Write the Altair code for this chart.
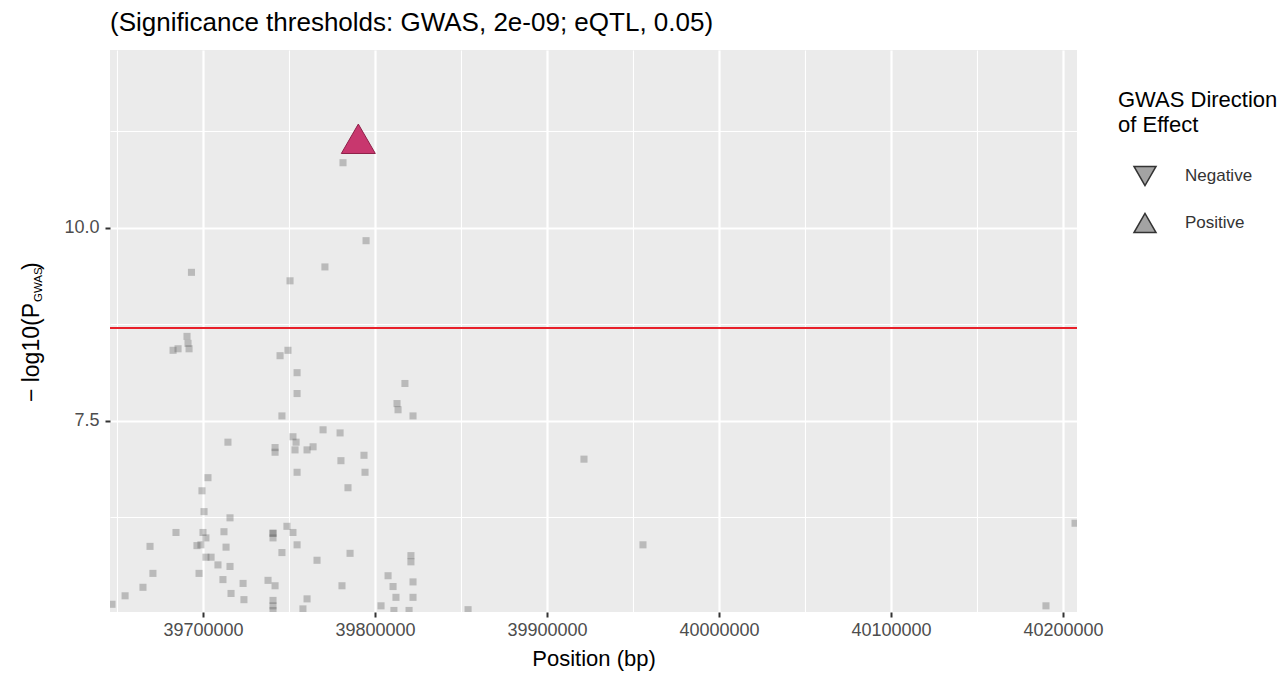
import altair as alt
import pandas as pd

# ---- data ----
pos_bp = [39781400, 39794800, 39770900, 39750600, 39693300, 39682600, 39685500, 39690700,
          39691300, 39691900, 39749400, 39744800, 39754700, 39754700, 39745900, 39817400,
          39812800, 39813400, 39822100, 39793600, 39794200, 39784300, 39785500, 39820900,
          39820900, 39807600, 39810500, 39822100, 39812200, 39822100, 39803500, 39811000,
          39819800, 39854100, 39769800, 39779700, 39752300, 39754100, 39741900, 39741900,
          39753500, 39760500, 39764000, 39780200, 39754700, 39748800, 39740700, 39740700,
          39740700, 39752300, 39754700, 39745900, 39766300, 39737800, 39741900, 39780800,
          39760500, 39758100, 39740700, 39740700, 39740700, 39714500, 39702900, 39699400,
          39700600, 39715700, 39684300, 39700000, 39701700, 39696500, 39698800, 39712200,
          39713400, 39669200, 39701700, 39704700, 39708700, 39715700, 39697700, 39711600,
          39723300, 39716300, 39723800, 39670900, 39665100, 39654700, 39647100, 39921500,
          39955800, 40190100, 40207000]
neglog_p = [10.84, 9.83, 9.49, 9.31, 9.42, 8.41, 8.43, 8.59,
            8.50, 8.43, 8.41, 8.34, 8.12, 7.85, 7.56, 7.98,
            7.72, 7.64, 7.56, 7.05, 6.83, 6.63, 5.78, 5.75,
            5.67, 5.49, 5.35, 5.41, 5.21, 5.21, 5.10, 5.04,
            5.04, 5.05, 7.38, 7.34, 7.29, 7.22, 7.15, 7.09,
            7.12, 7.12, 7.16, 6.98, 6.83, 6.13, 6.04, 5.98,
            6.04, 6.05, 5.89, 5.79, 5.69, 5.43, 5.36, 5.36,
            5.19, 5.06, 5.17, 5.04, 5.10, 7.22, 6.76, 6.59,
            6.32, 6.24, 6.05, 6.05, 5.98, 5.88, 5.89, 6.06,
            5.86, 5.87, 5.73, 5.73, 5.63, 5.61, 5.52, 5.44,
            5.39, 5.26, 5.18, 5.52, 5.34, 5.23, 5.12, 7.00,
            5.89, 5.10, 6.17]

sig_pos = [39790300]
sig_p = [11.15]
sig_dir = ["Positive"]
sig_group = ["eQTL significant"]

directions = ["Negative", "Positive"]
dir_shapes = ["triangle-down", "triangle-up"]

gwas_threshold = [8.699]  # -log10(2e-09)

x_domain = [39645930, 40208140]
y_domain = [5.02, 12.3]
x_ticks = [39650000, 39700000, 39750000, 39800000, 39850000, 39900000, 39950000,
           40000000, 40050000, 40100000, 40150000, 40200000]
y_ticks = [6.25, 7.5, 8.75, 10.0, 11.25]

title_text = "(Significance thresholds: GWAS, 2e-09; eQTL, 0.05)"
x_title = "Position (bp)"
y_title_main = ["\u2212 log10(P"]
y_title_sub = ["GWAS"]
y_title_end = [")"]
legend_title = ["GWAS Direction", "of Effect"]

FONT = "Liberation Sans"

pts = pd.DataFrame({"pos": pos_bp, "p": neglog_p})
sig = pd.DataFrame({"pos": sig_pos, "p": sig_p, "dir": sig_dir, "grp": sig_group})
thr = pd.DataFrame({"p": gwas_threshold})

x_is_major = "datum.value % 100000 === 0"
y_is_major = "datum.value % 2.5 === 0"

x_scale = alt.Scale(domain=x_domain, nice=False, zero=False)
y_scale = alt.Scale(domain=y_domain, nice=False, zero=False)

x_axis = alt.Axis(
    values=x_ticks, format="d",
    labelExpr=f"{x_is_major} ? datum.label : ''",
    grid=True, gridColor="white",
    gridWidth={"condition": {"test": x_is_major, "value": 2.2}, "value": 1.1},
    tickOpacity={"condition": {"test": x_is_major, "value": 1}, "value": 0},
    tickColor="#333333", tickSize=5, tickWidth=2, domain=False,
    labelFontSize=18, labelColor="#4D4D4D", labelPadding=4, labelFont=FONT,
    title=x_title, titleFontSize=22, titleFontWeight="normal", titleColor="black",
    titleFont=FONT, titlePadding=9,
)
y_axis = alt.Axis(
    values=y_ticks,
    labelExpr=f"{y_is_major} ? format(datum.value, '.1f') : ''",
    grid=True, gridColor="white",
    gridWidth={"condition": {"test": y_is_major, "value": 2.2}, "value": 1.1},
    tickOpacity={"condition": {"test": y_is_major, "value": 1}, "value": 0},
    tickColor="#333333", tickSize=5, tickWidth=2, domain=False,
    labelFontSize=18, labelColor="#4D4D4D", labelPadding=6, labelFont=FONT,
    title=None,
)

squares = alt.Chart(pts).mark_square(size=50, color="#555555", opacity=0.32, clip=True).encode(
    x=alt.X("pos:Q", scale=x_scale, axis=x_axis),
    y=alt.Y("p:Q", scale=y_scale, axis=y_axis),
)

rule = alt.Chart(thr).mark_rule(color="#E8202A", strokeWidth=2).encode(
    y=alt.Y("p:Q", scale=y_scale)
)

tri = alt.Chart(sig).mark_point(filled=True, strokeWidth=1, size=1156, opacity=1).encode(
    x=alt.X("pos:Q", scale=x_scale),
    y=alt.Y("p:Q", scale=y_scale),
    fill=alt.Fill("grp:N", scale=alt.Scale(domain=sig_group, range=["#C8376E"]), legend=None),
    stroke=alt.Stroke("grp:N", scale=alt.Scale(domain=sig_group, range=["#8E2149"]), legend=None),
    shape=alt.Shape(
        "dir:N",
        scale=alt.Scale(domain=directions, range=dir_shapes),
        legend=alt.Legend(
            title=legend_title, orient="none", legendX=1008, legendY=40,
            titleFontSize=22, titleFontWeight="normal", titleColor="black", titleFont=FONT,
            titleLineHeight=25, titlePadding=27,
            labelFontSize=17, labelColor="#333333", labelFont=FONT, labelOffset=28,
            symbolSize=484, symbolFillColor="#A3A3A3", symbolStrokeColor="#333333",
            symbolStrokeWidth=1.5, symbolOffset=15, rowPadding=21,
        ),
    ),
)

ymain = alt.Chart(pd.DataFrame({"t": y_title_main})).mark_text(
    angle=270, align="right", baseline="middle", fontSize=23, font=FONT, color="black"
).encode(text="t:N", x=alt.value(-78), y=alt.value(253))
ysub = alt.Chart(pd.DataFrame({"t": y_title_sub})).mark_text(
    angle=270, align="left", baseline="middle", fontSize=11.5, font=FONT, color="black"
).encode(text="t:N", x=alt.value(-71), y=alt.value(252))
yend = alt.Chart(pd.DataFrame({"t": y_title_end})).mark_text(
    angle=270, align="left", baseline="middle", fontSize=23, font=FONT, color="black"
).encode(text="t:N", x=alt.value(-78), y=alt.value(220))

chart = alt.layer(squares, rule, tri, ymain, ysub, yend).properties(
    width=967, height=562,
    title=alt.TitleParams(text=title_text, anchor="start", frame="group", fontSize=26,
                          fontWeight="normal", color="black", font=FONT, offset=14),
    autosize=alt.AutoSizeParams(type="none"),
    padding={"left": 102, "top": 42, "right": 200, "bottom": 60},
).configure(
    background="white", font=FONT
).configure_view(
    fill="#EBEBEB", stroke="transparent", strokeWidth=0
).configure_legend(
    symbolBaseFillColor="#A3A3A3", symbolBaseStrokeColor="#333333"
)

chart.save("out.html", embed_options={"renderer": "svg", "actions": False})
